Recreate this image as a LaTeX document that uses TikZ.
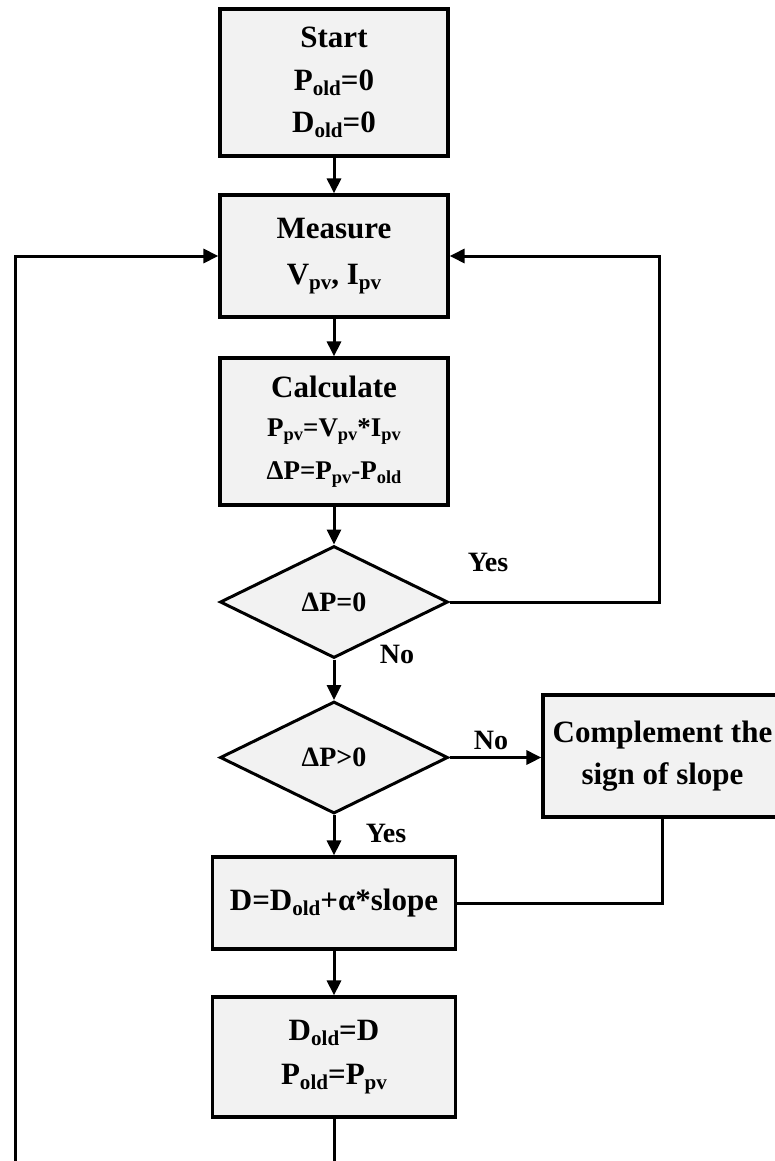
\documentclass[tikz,border=0pt]{standalone}
\usepackage{fontspec}
\usepackage{graphicx}
\setmainfont{Liberation Serif}
\usetikzlibrary{shapes.geometric,arrows.meta}

% lowered, reduced-size subscript in text
\newcommand\dn[1]{\raisebox{-0.35ex}{\scalebox{0.68}{#1}}}

\definecolor{boxfill}{HTML}{F2F2F2}

\begin{document}
\begin{tikzpicture}[x=1pt,y=-1pt,
  box/.style={draw, line width=3.2pt, fill=boxfill, inner sep=0pt, align=center,
              font=\bfseries\fontsize{31}{42.5}\selectfont},
  dec/.style={diamond, draw, line width=3pt, fill=boxfill, inner sep=0pt,
              minimum width=228pt, minimum height=112pt,
              font=\bfseries\fontsize{28}{30}\selectfont},
  lbl/.style={inner sep=0pt, font=\bfseries\fontsize{28}{30}\selectfont},
  flow/.style={line width=3pt, -{Triangle[length=15pt,width=14pt]}},
  link/.style={line width=3pt}]

\clip (0,0) rectangle (775,1161);
\useasboundingbox (0,0) rectangle (775,1161);

% process column
\node[box, minimum width=228pt, minimum height=147pt] (start) at (334,82.5)
  {Start\\P\dn{old}=0\\D\dn{old}=0};
\node[box, minimum width=228pt, minimum height=122pt] (measure) at (334,256)
  {Measure\\[4pt]V\dn{pv}, I\dn{pv}};
\node[box, minimum width=228pt, minimum height=147pt] (calc) at (334,431.5)
  {Calculate\\[-3pt]\fontsize{27}{39}\selectfont P\dn{pv}=V\dn{pv}*I\dn{pv}\\
   \fontsize{27}{39}\selectfont ΔP=P\dn{pv}-P\dn{old}};
\node[dec] (d1) at (334,602) {ΔP=0};
\node[dec] (d2) at (334,757.5) {ΔP>0};
\node[box, minimum width=239pt, minimum height=122pt] (comp) at (662.5,756)
  {Complement the\\sign of slope};
\node[box, minimum width=243pt, minimum height=92pt] (upd) at (334,903)
  {D=D\dn{old}+α*slope};
\node[box, minimum width=243pt, minimum height=120pt] (store) at (334,1057)
  {D\dn{old}=D\\[2pt]P\dn{old}=P\dn{pv}};

% branch labels
\node[lbl] (yes1) at (488,562) {Yes};
\node[lbl] (no1) at (397,654) {No};
\node[lbl] (no2) at (491,740) {No};
\node[lbl] (yes2) at (386,833) {Yes};

% loop-back routing points
\coordinate (rx) at (659,0);
\coordinate (lx) at (15,0);
\coordinate (below) at (0,1185);

% connectors
\draw[flow] (start) -- (measure);
\draw[flow] (measure) -- (calc);
\draw[flow] (calc) -- (d1);
\draw[flow] (d1.east) -- (d1.east -| rx) |- (measure.east);
\draw[flow] (d1) -- (d2);
\draw[flow] (d2.east) -- (d2.east -| comp.west);
\draw[flow] (d2) -- (upd);
\draw[link] (comp.south) |- (upd.east);
\draw[flow] (upd) -- (store);
\draw[flow] (store.south) -- (store.south |- below) -- (below -| lx) |- (measure.west);
\end{tikzpicture}
\end{document}
